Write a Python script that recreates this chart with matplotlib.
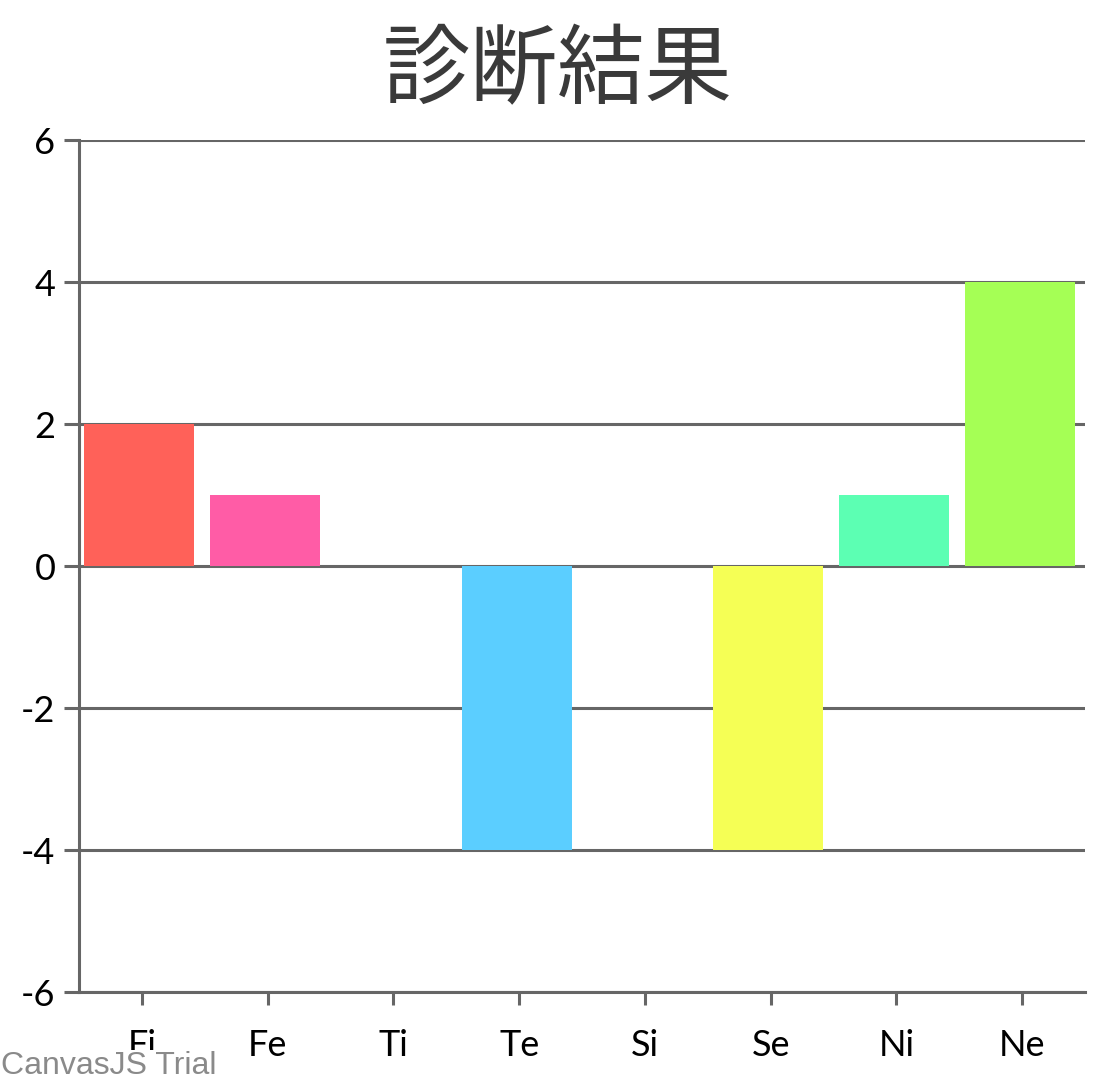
import matplotlib.pyplot as plt

categories = ['Fi', 'Fe', 'Ti', 'Te', 'Si', 'Se', 'Ni', 'Ne']
values = [2, 1, 0, -4, 0, -4, 1, 4]
colors = ['#FF6159', '#FF5CA6', '#5BC0DE', '#5BCEFF', '#FFFFFF', '#F5FF55', '#5CFFB3', '#A5FF55']
y_ticks = [-6, -4, -2, 0, 2, 4, 6]
title = '診断結果'

plt.rcParams['font.family'] = ['Lato', 'DejaVu Sans']

fig = plt.figure(figsize=(11.16, 10.8), dpi=100)
ax = fig.add_axes([79 / 1116, 1 - 992 / 1080, (1085 - 79) / 1116, (992 - 140) / 1080])

x = range(len(categories))
ax.bar([i - 0.02 for i in x], values, width=0.875, color=colors, zorder=3)

ax.set_xlim(-0.5, len(categories) - 0.5)
ax.set_ylim(-6, 6)
ax.set_yticks(y_ticks)
ax.set_yticklabels([str(v) for v in y_ticks])
ax.set_xticks(list(x))
ax.set_xticklabels(categories)

ax.grid(axis='y', color='#666666', linewidth=2.2, zorder=0)
for s in ['top', 'right']:
    ax.spines[s].set_visible(False)
ax.spines['left'].set_color('#666666')
ax.spines['left'].set_linewidth(2.2)
ax.spines['bottom'].set_color('#666666')
ax.spines['bottom'].set_linewidth(2.2)
ax.tick_params(axis='y', length=11, width=2.2, color='#666666', labelsize=26, pad=6)
ax.tick_params(axis='x', length=9, width=2.2, color='#666666', labelsize=26, pad=18)

fig.text(0.5, 1 - 72 / 1080, title, ha='center', va='center', fontsize=63,
         color='#3A3A3A', family=['Noto Sans CJK JP', 'DejaVu Sans'])
# watermark sits on a white box over the first label, as in the original
fig.text(1 / 1116, 1 - 1066 / 1080, 'CanvasJS Trial', ha='left', va='center',
         fontsize=23, color='#8A8A8A', family=['Liberation Sans', 'DejaVu Sans'],
         bbox=dict(facecolor='white', edgecolor='none', pad=1), zorder=10)

fig.savefig('out.png', dpi=100)
